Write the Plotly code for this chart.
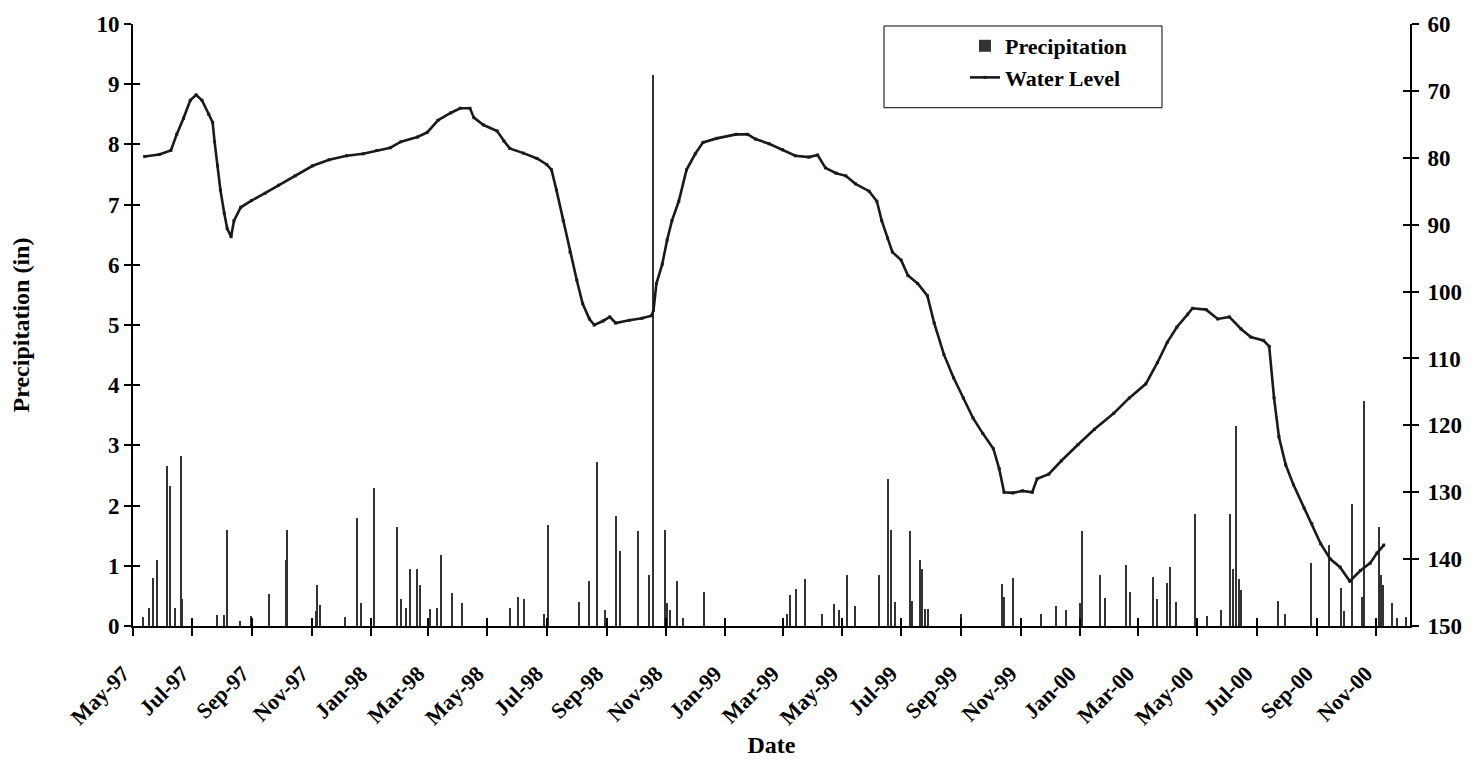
import plotly.graph_objects as go

# ---------------- data ----------------
wl_dates = [
    "1997-05-13", "1997-05-28", "1997-06-09", "1997-06-15", "1997-06-22", "1997-06-29",
    "1997-07-05", "1997-07-11", "1997-07-18", "1997-07-22", "1997-07-24", "1997-07-27",
    "1997-07-30", "1997-08-03", "1997-08-06", "1997-08-10", "1997-08-13", "1997-08-20",
    "1997-08-31", "1997-09-14", "1997-09-28", "1997-10-15", "1997-11-02", "1997-11-19",
    "1997-12-07", "1997-12-24", "1998-01-07", "1998-01-21", "1998-02-01", "1998-02-18",
    "1998-02-28", "1998-03-11", "1998-03-24", "1998-04-03", "1998-04-13", "1998-04-17",
    "1998-04-27", "1998-05-11", "1998-05-18", "1998-05-24", "1998-06-07", "1998-06-21",
    "1998-07-01", "1998-07-06", "1998-07-11", "1998-07-18", "1998-07-25", "1998-08-01",
    "1998-08-07", "1998-08-14", "1998-08-19", "1998-08-28", "1998-09-04", "1998-09-10",
    "1998-09-24", "1998-10-07", "1998-10-17", "1998-10-19", "1998-10-22", "1998-10-28",
    "1998-11-02", "1998-11-07", "1998-11-14", "1998-11-22", "1998-12-01", "1998-12-09",
    "1998-12-23", "1999-01-12", "1999-01-24", "1999-02-01", "1999-02-15", "1999-03-01",
    "1999-03-14", "1999-03-28", "1999-04-06", "1999-04-14", "1999-04-25", "1999-05-05",
    "1999-05-15", "1999-05-29", "1999-06-06", "1999-06-11", "1999-06-17", "1999-06-22",
    "1999-07-01", "1999-07-08", "1999-07-18", "1999-07-28", "1999-08-04", "1999-08-14",
    "1999-08-24", "1999-09-03", "1999-09-13", "1999-09-23", "1999-10-04", "1999-10-10",
    "1999-10-15", "1999-10-24", "1999-11-03", "1999-11-13", "1999-11-18", "1999-11-30",
    "1999-12-13", "1999-12-30", "2000-01-16", "2000-02-05", "2000-02-21", "2000-03-09",
    "2000-03-21", "2000-03-31", "2000-04-10", "2000-04-21", "2000-04-26", "2000-05-10",
    "2000-05-22", "2000-06-03", "2000-06-15", "2000-06-25", "2000-07-08", "2000-07-14",
    "2000-07-19", "2000-07-24", "2000-07-31", "2000-08-08", "2000-08-19", "2000-08-27",
    "2000-09-05", "2000-09-15", "2000-09-25", "2000-10-05", "2000-10-16", "2000-10-26",
    "2000-11-02", "2000-11-09",
]
water_level = [
    79.8, 79.5, 78.9, 76.5, 74.1, 71.4,
    70.6, 71.4, 73.5, 74.7, 77.6, 81.2,
    84.8, 88.3, 90.6, 91.8, 89.4, 87.4,
    86.4, 85.3, 84.1, 82.7, 81.2, 80.3,
    79.7, 79.4, 78.9, 78.5, 77.6, 76.9,
    76.2, 74.4, 73.3, 72.6, 72.6, 74.0,
    75.1, 76.0, 77.5, 78.6, 79.3, 80.1,
    81.0, 81.8, 84.8, 89.4, 94.1, 98.3,
    101.8, 104.1, 105.0, 104.4, 103.8, 104.7,
    104.3, 104.0, 103.6, 102.8, 98.8, 95.9,
    92.3, 89.4, 86.5, 81.8, 79.4, 77.7,
    77.1, 76.5, 76.5, 77.2, 77.9, 78.8,
    79.7, 79.9, 79.6, 81.5, 82.3, 82.7,
    83.9, 85.0, 86.5, 89.4, 92.0, 94.1,
    95.3, 97.6, 98.8, 100.6, 104.7, 109.4,
    112.9, 115.9, 118.9, 121.2, 123.5, 126.5,
    130.0, 130.1, 129.8, 130.0, 128.0, 127.3,
    125.3, 122.9, 120.6, 118.2, 115.9, 113.8,
    110.6, 107.6, 105.3, 103.4, 102.5, 102.7,
    104.1, 103.8, 105.6, 106.8, 107.3, 108.2,
    115.9, 121.7, 125.9, 128.9, 132.4, 134.7,
    137.7, 140.0, 141.2, 143.3, 141.7, 140.6,
    139.1, 137.9,
]

precip_dates = [
    "1997-05-11", "1997-05-18", "1997-05-22", "1997-05-26", "1997-06-05", "1997-06-08",
    "1997-06-13", "1997-06-19", "1997-06-21", "1997-07-27", "1997-08-03", "1997-08-06",
    "1997-08-19", "1997-08-31", "1997-09-18", "1997-10-06", "1997-10-07", "1997-11-05",
    "1997-11-07", "1997-11-10", "1997-12-05", "1997-12-18", "1997-12-22", "1998-01-04",
    "1998-01-28", "1998-02-01", "1998-02-06", "1998-02-10", "1998-02-17", "1998-02-21",
    "1998-03-03", "1998-03-10", "1998-03-14", "1998-03-26", "1998-04-05", "1998-05-24",
    "1998-06-02", "1998-06-08", "1998-06-28", "1998-07-02", "1998-08-03", "1998-08-14",
    "1998-08-22", "1998-08-30", "1998-09-10", "1998-09-15", "1998-10-03", "1998-10-14",
    "1998-10-18", "1998-10-31", "1998-11-02", "1998-11-05", "1998-11-12", "1998-11-18",
    "1998-12-10", "1999-03-05", "1999-03-09", "1999-03-15", "1999-03-24", "1999-04-11",
    "1999-04-23", "1999-04-28", "1999-05-06", "1999-05-14", "1999-06-08", "1999-06-18",
    "1999-06-21", "1999-06-25", "1999-07-10", "1999-07-12", "1999-07-20", "1999-07-22",
    "1999-07-26", "1999-07-29",
    "1999-09-01", "1999-10-13", "1999-10-15", "1999-10-24", "1999-11-22", "1999-12-08",
    "1999-12-18", "2000-01-01", "2000-01-03", "2000-01-22", "2000-01-27", "2000-02-18",
    "2000-02-22", "2000-03-16", "2000-03-21", "2000-03-31", "2000-04-03", "2000-04-09",
    "2000-04-29", "2000-05-11", "2000-05-25", "2000-06-04", "2000-06-07", "2000-06-10",
    "2000-06-13", "2000-06-15", "2000-07-23", "2000-07-30", "2000-08-26", "2000-09-14",
    "2000-09-26", "2000-09-29", "2000-10-07", "2000-10-18", "2000-10-20", "2000-11-04",
    "2000-11-06", "2000-11-08", "2000-11-18", "2000-11-23", "2000-12-02",
]
precipitation = [
    0.15, 0.30, 0.80, 1.10, 2.65, 2.32,
    0.30, 2.82, 0.45, 0.18, 0.18, 1.60,
    0.08, 0.17, 0.53, 1.10, 1.60, 0.25,
    0.68, 0.35, 0.15, 1.80, 0.38, 2.30,
    1.65, 0.45, 0.30, 0.95, 0.95, 0.68,
    0.28, 0.30, 1.18, 0.55, 0.38, 0.30,
    0.48, 0.45, 0.20, 1.68, 0.40, 0.75,
    2.72, 0.26, 1.83, 1.24, 1.57, 0.85,
    9.15, 1.60, 0.39, 0.26, 0.75, 0.13,
    0.56, 0.20, 0.52, 0.62, 0.78, 0.20,
    0.36, 0.26, 0.85, 0.33, 0.85, 2.45,
    1.60, 0.40, 1.57, 0.42, 1.10, 0.95,
    0.28, 0.28,
    0.20, 0.69, 0.49, 0.80, 0.20, 0.33,
    0.26, 0.39, 1.57, 0.85, 0.46, 1.01,
    0.56, 0.82, 0.45, 0.72, 0.98, 0.40,
    1.86, 0.16, 0.26, 1.86, 0.95, 3.33,
    0.78, 0.59, 0.42, 0.20, 1.04, 1.34,
    0.63, 0.25, 2.03, 0.48, 3.74, 1.64,
    0.85, 0.68, 0.38, 0.13, 0.15,
]

x_range = ["1997-05-01", "2000-12-06"]
left_range = [0, 10]
right_range = [150, 60]

FONT = "Liberation Serif"
DAY_MS = 86400000

fig = go.Figure()

fig.add_trace(go.Bar(
    x=precip_dates, y=precipitation, name="Precipitation",
    width=1.1 * DAY_MS, marker=dict(color="#333333", line=dict(width=0)),
    yaxis="y", xaxis="x",
))

fig.add_trace(go.Scatter(
    x=wl_dates, y=water_level, name="Water Level", mode="lines+markers",
    line=dict(color="#1a1a1a", width=2.6),
    marker=dict(color="#1a1a1a", size=3, symbol="square"),
    yaxis="y2", xaxis="x",
))

# helper traces on overlay axes so that the crossing (inside) ticks are drawn
fig.add_trace(go.Scatter(x=[], y=[], xaxis="x2", yaxis="y3", showlegend=False, hoverinfo="skip"))
fig.add_trace(go.Scatter(x=[], y=[], xaxis="x2", yaxis="y4", showlegend=False, hoverinfo="skip"))

tickfont = dict(family=FONT, size=23, color="black", weight="bold")
titlefont = dict(family=FONT, size=24, color="black", weight="bold")

fig.update_layout(
    width=1479, height=782,
    margin=dict(l=133, r=69, t=22, b=156),
    paper_bgcolor="white", plot_bgcolor="white",
    bargap=0,
    font=dict(family=FONT, color="black"),
    xaxis=dict(
        type="date", range=x_range,
        tick0="1997-05-01", dtick="M2", tickformat="%b-%y",
        tickangle=-45, tickfont=dict(family=FONT, size=22, color="black", weight="bold"),
        ticks="outside", ticklen=8, tickwidth=2, tickcolor="black",
        ticklabelstandoff=16, ticklabelshift=-10,
        showline=True, linecolor="black", linewidth=2,
        showgrid=False, zeroline=False,
        title=dict(text="Date", font=titlefont, standoff=8),
    ),
    xaxis2=dict(
        type="date", range=x_range, overlaying="x",
        tick0="1997-05-01", dtick="M2",
        ticks="inside", ticklen=8, tickwidth=2, tickcolor="black",
        showticklabels=False, showline=False, showgrid=False, zeroline=False,
    ),
    yaxis=dict(
        range=left_range, dtick=1,
        tickfont=tickfont,
        ticks="outside", ticklen=7, tickwidth=1.5, tickcolor="black",
        showline=True, linecolor="black", linewidth=2,
        showgrid=False, zeroline=False,
        title=dict(text="Precipitation (in)", font=titlefont, standoff=60),
    ),
    yaxis2=dict(
        range=right_range, dtick=10, overlaying="y", side="right",
        tickfont=tickfont,
        ticks="outside", ticklen=7, tickwidth=1.5, tickcolor="black",
        ticklabelstandoff=4,
        showline=True, linecolor="black", linewidth=2,
        showgrid=False, zeroline=False,
    ),
    yaxis3=dict(
        range=left_range, dtick=1, overlaying="y", side="left",
        ticks="inside", ticklen=7, tickwidth=1.5, tickcolor="black",
        showticklabels=False, showline=False, showgrid=False, zeroline=False,
    ),
    yaxis4=dict(
        range=right_range, dtick=10, overlaying="y", side="right",
        ticks="inside", ticklen=7, tickwidth=1.5, tickcolor="black",
        showticklabels=False, showline=False, showgrid=False, zeroline=False,
    ),
    legend=dict(
        x=(965 - 133) / 1277, y=(626 - 23) / 604, xanchor="left", yanchor="top",
        bgcolor="rgba(0,0,0,0)", borderwidth=0,
        font=dict(family=FONT, size=22, color="black", weight="bold"),
        itemwidth=30, tracegroupgap=0,
    ),
    showlegend=True,
    shapes=[dict(
        type="rect", xref="paper", yref="paper", layer="below",
        x0=(884 - 133) / 1277, x1=(1162 - 133) / 1277,
        y0=(626 - 106) / 604, y1=(626 - 24) / 604,
        line=dict(color="black", width=1), fillcolor="white",
    )],
)

fig.write_html("out.html")
